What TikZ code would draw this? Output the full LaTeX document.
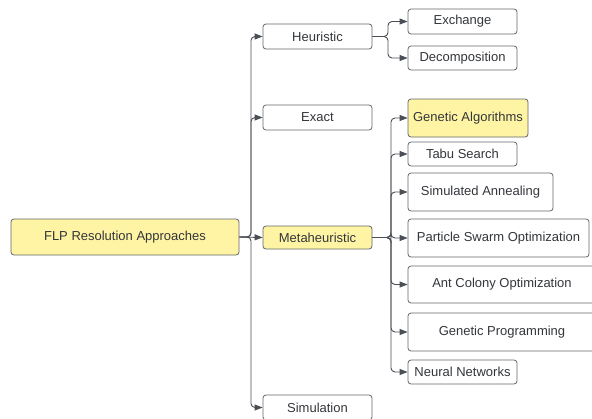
\documentclass[tikz,border=0pt]{standalone}
\usepackage{fontspec}
\setmainfont{Liberation Sans}
\usetikzlibrary{arrows.meta}
\definecolor{lineC}{HTML}{4A4E55}
\definecolor{boxC}{HTML}{62666D}
\definecolor{textC}{HTML}{33363B}
\definecolor{yellowC}{HTML}{FFF4A3}
\tikzset{
  box/.style={draw=boxC, line width=0.8pt, rounded corners=3pt, fill=white,
    text=textC, inner sep=0pt, font=\fontsize{13}{15}\selectfont, align=center},
  hl/.style={box, fill=yellowC},
  conn/.style={draw=lineC, line width=0.9pt, rounded corners=4pt,
    -{Triangle[length=8pt,width=6pt]}},
}
\begin{document}
\begin{tikzpicture}[x=1pt,y=-1pt]
\useasboundingbox (0,0) rectangle (592,418);
\clip (0,0) rectangle (592,418);
\fill[white] (0,0) rectangle (592,418);
% level 0
\node[hl, minimum width=228pt, minimum height=36pt] (root) at (125,237) {FLP Resolution Approaches};
% level 1
\node[box, minimum width=109pt, minimum height=25pt] (heur) at (317.5,36.5) {Heuristic};
\node[box, minimum width=109pt, minimum height=25pt] (exact) at (317.5,117.5) {Exact};
\node[hl, minimum width=109pt, minimum height=23pt] (meta) at (317.5,237.5) {Metaheuristic};
\node[box, minimum width=109pt, minimum height=25pt] (sim) at (317.5,407.5) {Simulation};
% heuristic children
\node[box, minimum width=109pt, minimum height=25pt] (exch) at (462.5,21.5) {Exchange};
\node[box, minimum width=109pt, minimum height=24pt] (dec) at (462.5,58) {Decomposition};
% metaheuristic children
\node[hl, minimum width=120pt, minimum height=38pt] (ga) at (468,118) {Genetic Algorithms};
\node[box, minimum width=109pt, minimum height=24pt] (tabu) at (462.5,154) {Tabu Search};
\node[box, minimum width=145pt, minimum height=38pt] (sa) at (480.5,192) {Simulated Annealing};
\node[box, minimum width=181pt, minimum height=38pt] (pso) at (498.5,238) {Particle Swarm Optimization};
\node[box, minimum width=188pt, minimum height=37pt] (aco) at (502,284.5) {Ant Colony Optimization};
\node[box, minimum width=188pt, minimum height=38pt] (gp) at (502,332) {Genetic Programming};
\node[box, minimum width=109pt, minimum height=24pt] (nn) at (462.5,372) {Neural Networks};
% trunk coordinates
\coordinate (t0) at (251,237);
\coordinate (t1) at (388,36.5);
\coordinate (t2) at (391,237.5);
% root connectors
\draw[conn] (root.east) -- (t0) |- (heur.west);
\draw[conn] (root.east) -- (t0) |- (exact.west);
\draw[conn] (root.east) -- (meta.west);
\draw[conn] (root.east) -- (t0) |- (sim.west);
% heuristic connectors
\draw[conn] (heur.east) -- (t1) |- (exch.west);
\draw[conn] (heur.east) -- (t1) |- (dec.west);
% metaheuristic connectors
\draw[conn] (meta.east) -- (t2) |- (ga.west);
\draw[conn] (meta.east) -- (t2) |- (tabu.west);
\draw[conn] (meta.east) -- (t2) |- (sa.west);
\draw[conn] (meta.east) -- (t2) |- (pso.west);
\draw[conn] (meta.east) -- (t2) |- (aco.west);
\draw[conn] (meta.east) -- (t2) |- (gp.west);
\draw[conn] (meta.east) -- (t2) |- (nn.west);
\end{tikzpicture}
\end{document}
